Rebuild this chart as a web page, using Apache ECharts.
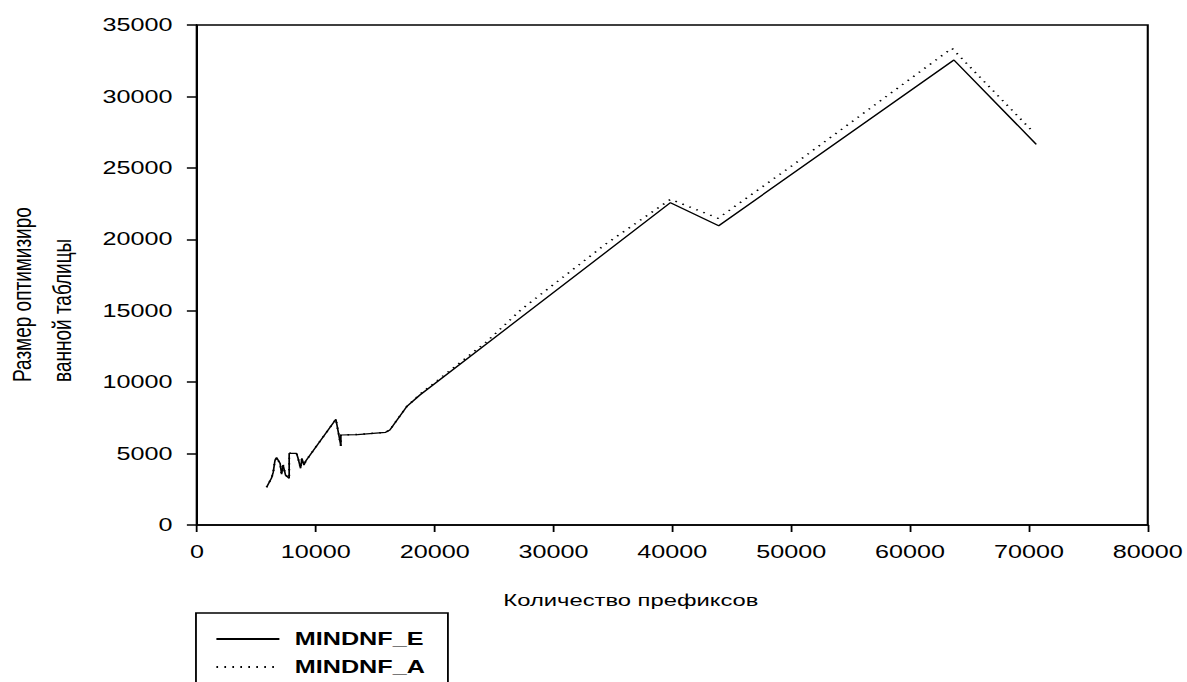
<!DOCTYPE html>
<html>
<head>
<meta charset="utf-8">
<script src="https://cdn.jsdelivr.net/npm/echarts@6/dist/echarts.min.js"></script>
<style>
  html, body { margin: 0; padding: 0; background: #fff; overflow: hidden; }
  /* the reference picture is horizontally stretched; draw at 848px and stretch to 1187px */
  #chart { width: 848px; height: 682px; transform: scaleX(1.39976); transform-origin: 0 0; }
</style>
</head>
<body>
<div id="chart"></div>
<script>
// ---- data ----
const seriesNames = ['MINDNF_E', 'MINDNF_A'];
const xAxisTitle = 'Количество префиксов';
const yAxisTitle = 'Размер оптимизиро\nванной таблицы';
const xTicks = [0, 10000, 20000, 30000, 40000, 50000, 60000, 70000, 80000];
const yTicks = [0, 5000, 10000, 15000, 20000, 25000, 30000, 35000];

const eX = [5860, 6280, 6420, 6560, 6700, 7000, 7120, 7250, 7450, 7760, 7760, 8380, 8500, 8720, 8830, 9000, 9170, 11690, 12110, 12110, 13500, 15870, 16230, 17640, 18760, 39840, 43900, 63690, 70620];
const eY = [2640, 3300, 3700, 4500, 4720, 4300, 3550, 4200, 3500, 3270, 5020, 5020, 4700, 3970, 4670, 4200, 4500, 7400, 5530, 6300, 6330, 6490, 6650, 8280, 9100, 22560, 20950, 32550, 26650];

const aX = [5860, 6280, 6420, 6560, 6700, 7000, 7120, 7250, 7450, 7760, 7760, 8380, 8500, 8720, 8830, 9000, 9170, 11690, 12110, 12110, 13500, 15870, 16230, 17640, 18760, 24370, 27310, 34370, 39850, 43850, 50150, 63520, 70420];
const aY = [2640, 3300, 3700, 4500, 4720, 4300, 3550, 4200, 3500, 3270, 5020, 5020, 4700, 3970, 4670, 4200, 4500, 7400, 5530, 6300, 6330, 6490, 6650, 8280, 9150, 12830, 15100, 19650, 22800, 21470, 25200, 33370, 27460];

function pairs(xs, ys) { return xs.map((x, i) => [x, ys[i]]); }

const chart = echarts.init(document.getElementById('chart'), null, { renderer: 'svg', width: 848, height: 682 });
const tickFont = { fontFamily: 'Liberation Sans', fontSize: 18, color: '#000', formatter: v => String(v) };

chart.setOption({
  animation: false,
  backgroundColor: '#fff',
  grid: { left: 140.7, top: 25, right: 26.4, bottom: 157, show: true, borderColor: '#000', borderWidth: 1.5, backgroundColor: 'transparent' },
  xAxis: {
    type: 'value', min: xTicks[0], max: xTicks[xTicks.length - 1], interval: xTicks[1] - xTicks[0],
    axisLine: { show: true, onZero: false, lineStyle: { color: '#000', width: 1.5 } },
    axisTick: { show: true, length: 7, lineStyle: { color: '#000', width: 1.3 } },
    axisLabel: Object.assign({ margin: 18 }, tickFont),
    splitLine: { show: false }
  },
  yAxis: {
    type: 'value', min: yTicks[0], max: yTicks[yTicks.length - 1], interval: yTicks[1] - yTicks[0],
    axisLine: { show: true, onZero: false, lineStyle: { color: '#000', width: 1.3 } },
    axisTick: { show: true, length: 7.2, lineStyle: { color: '#000', width: 1.5 } },
    axisLabel: Object.assign({ margin: 17.5 }, tickFont),
    splitLine: { show: false }
  },
  legend: {
    orient: 'vertical', left: 153.6, top: 630,
    padding: 0,
    itemGap: 10, itemWidth: 45, itemHeight: 14,
    itemStyle: { opacity: 0 },
    textStyle: { fontFamily: 'Liberation Sans', fontWeight: 'bold', fontSize: 18, color: '#000', padding: [0, 0, 0, 6] },
    data: seriesNames
  },
  graphic: [
    { type: 'rect', z: 0, shape: { x: 140, y: 613, width: 180, height: 100 },
      style: { fill: 'none', stroke: '#000', lineWidth: 1.3 } },
    { type: 'text', x: 450.7, y: 600,
      style: { text: xAxisTitle, font: '17px "Liberation Sans"', fill: '#000', textAlign: 'center', textVerticalAlign: 'middle' } },
    { type: 'text', x: 30, y: 382, rotation: Math.PI / 2,
      style: { text: yAxisTitle, font: '19px "Liberation Sans"', fill: '#000', textAlign: 'left', textVerticalAlign: 'middle', lineHeight: 28.5 } }
  ],
  series: [
    { name: seriesNames[0], type: 'line', data: pairs(eX, eY), showSymbol: false, symbol: 'none',
      lineStyle: { color: '#000', width: 1.2, type: 'solid' }, itemStyle: { color: '#000' } },
    { name: seriesNames[1], type: 'line', data: pairs(aX, aY), showSymbol: false, symbol: 'none',
      lineStyle: { color: '#000', width: 1.5, type: [1.2, 4.5] }, itemStyle: { color: '#000' } }
  ]
});
</script>
</body>
</html>
